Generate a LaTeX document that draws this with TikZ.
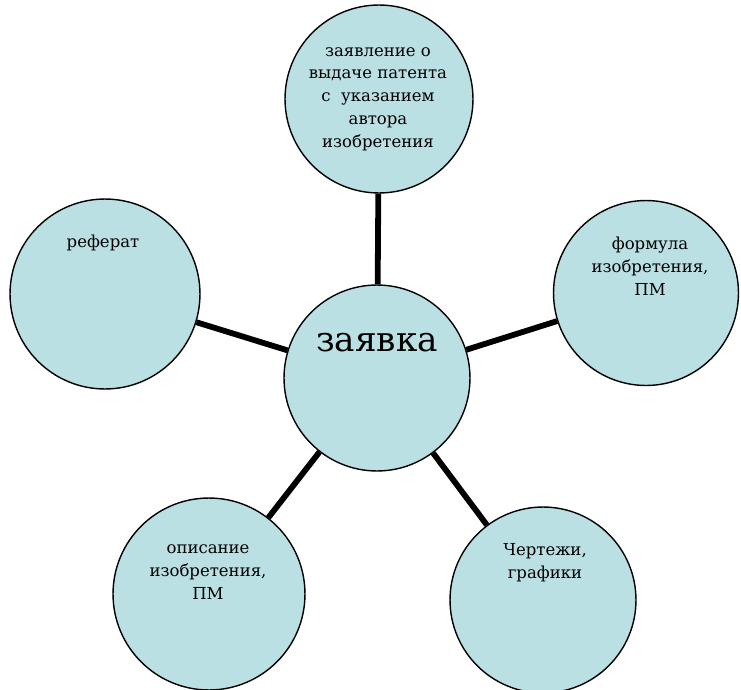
\documentclass[tikz,border=0pt]{standalone}
\usepackage{fontspec}
\setmainfont{DejaVu Serif}
\definecolor{blob}{RGB}{187,224,227}
\begin{document}
\begin{tikzpicture}[x=0.02cm, y=-0.02cm, line join=round, font=\fontsize{9.4}{13}\selectfont]
	\tikzset{bubble/.style={circle, draw, fill=blob, line width=0.8pt, inner sep=0pt, minimum size=#1},
		spoke/.style={line width=3.3pt}, lbl/.style={align=center, inner sep=0pt}}
	\useasboundingbox (0,0) rectangle (741,690);
	\node[bubble=3.72cm] (zayavka) at (377,378) {};
	\node[bubble=3.76cm] (zayavl) at (379,99) {};
	\node[bubble=3.7cm] (formula) at (646,293) {};
	\node[bubble=3.8cm] (referat) at (105,294) {};
	\node[bubble=3.84cm] (opisanie) at (209,594) {};
	\node[bubble=3.72cm] (chertezhi) at (543,600) {};
	\draw[spoke] (zayavka)--(zayavl) (zayavka)--(formula) (zayavka)--(referat)
	(zayavka)--(opisanie) (zayavka)--(chertezhi);
	\node[lbl, font=\fontsize{19.5}{24}\selectfont] (t-zayavka) at (377,343) {заявка};
	\node[lbl] (t-zayavl) at (378,99) {заявление о\\выдаче патента\\с\ \ указанием\\автора\\изобретения};
	\node[lbl] (t-formula) at (650,266) {формула\\изобретения,\\ПМ};
	\node[lbl] (t-referat) at (103,243) {реферат};
	\node[lbl] (t-opisanie) at (208,572) {описание\\изобретения,\\ПМ};
	\node[lbl] (t-chertezhi) at (545,563) {Чертежи,\\графики};
\end{tikzpicture}
\end{document}
